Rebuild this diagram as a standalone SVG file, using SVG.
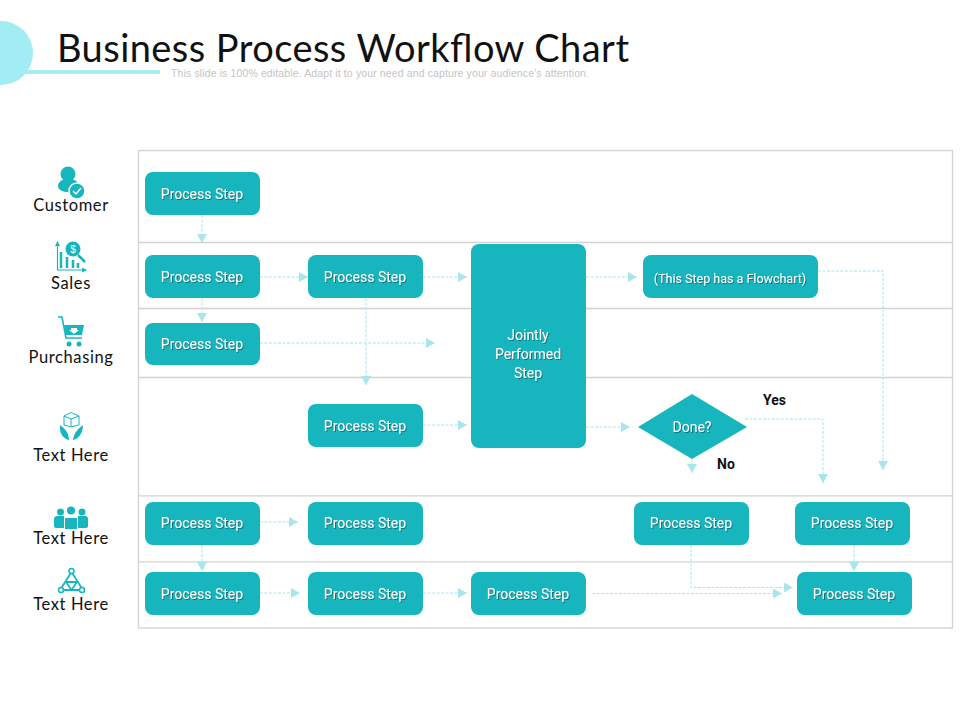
<svg xmlns="http://www.w3.org/2000/svg" width="960" height="720" viewBox="0 0 960 720">
<style>
.n{fill:#17b6bf}
.t{font-family:"Roboto","Liberation Sans",sans-serif;font-size:14px;fill:#fff;text-anchor:middle;filter:url(#ts)}
.l{font-family:"Lato","Liberation Sans",sans-serif;font-size:16.5px;fill:#111;text-anchor:middle;letter-spacing:.6px}
.b{font-family:"Roboto","Liberation Sans",sans-serif;font-size:14px;font-weight:700;fill:#111}
.g{stroke:#d2d2d2;stroke-width:1.3;fill:none}
.c{fill:none;stroke:#a9e6ec;stroke-width:1;stroke-dasharray:3 1.5;marker-end:url(#a)}
.i{fill:#17b6bf}
.s{fill:none;stroke:#17b6bf}
</style>
<defs>
<marker id="a" markerUnits="userSpaceOnUse" markerWidth="10" markerHeight="10" refX="9" refY="5" orient="auto"><path d="M0 0L9 5L0 10Z" fill="#a9e6ec"/></marker>
<filter id="ts" x="-10%" y="-30%" width="120%" height="170%"><feDropShadow dx="1" dy="1" stdDeviation=".4" flood-color="#0a5a60" flood-opacity=".7"/></filter>
</defs>
<g id="header">
<circle cx="1" cy="53" r="32" fill="#a2ecf3"/>
<rect x="25" y="70" width="135" height="4" fill="#a2ecf3"/>
<text x="57" y="62" font-family="Lato,'Liberation Sans',sans-serif" font-size="38" font-weight="400" fill="#111" textLength="572" lengthAdjust="spacing">Business Process Workflow Chart</text>
<text x="171" y="77" font-family="'Liberation Sans',sans-serif" font-size="10.5" fill="#c4c4c4" textLength="418">This slide is 100% editable. Adapt it to your need and capture your audience's attention.</text>
</g>
<g id="grid">
<rect class="g" x="138.500" y="150.500" width="814" height="477.500"/>
<path class="g" d="M138 242.500H953M138 308.500H953M138 377.500H953M138 495.800H953M138 561.800H953"/>
</g>
<g id="connectors">
<path class="c" d="M202 215V243"/>
<path class="c" d="M260 277H308"/>
<path class="c" d="M423 277H467"/>
<path class="c" d="M586 277H637"/>
<path class="c" d="M818 271H883V470"/>
<path class="c" d="M202 298V322"/>
<path class="c" d="M260 343H435"/>
<path class="c" d="M366 298V385"/>
<path class="c" d="M423 425H467"/>
<path class="c" d="M586 427H630"/>
<path class="c" d="M692 459V473"/>
<path class="c" d="M745 419H823V483"/>
<path class="c" d="M260 522H298"/>
<path class="c" d="M202 545V571"/>
<path class="c" d="M260 593H300"/>
<path class="c" d="M423 593H467"/>
<path class="c" d="M592 593.500H782"/>
<path class="c" d="M691 545V587.500H793"/>
<path class="c" d="M854 545V571"/>
</g>
<g id="n1"><rect class="n" x="145" y="172" width="115" height="43" rx="8"/><text class="t" x="202" y="199">Process Step</text></g>
<g id="n2"><rect class="n" x="145" y="255" width="115" height="43" rx="8"/><text class="t" x="202" y="282">Process Step</text></g>
<g id="n3"><rect class="n" x="308" y="255" width="115" height="43" rx="8"/><text class="t" x="365" y="282">Process Step</text></g>
<g id="n4"><rect class="n" x="471" y="244" width="115" height="204" rx="8"/><text class="t" x="528" y="340">Jointly</text><text class="t" x="528" y="359">Performed</text><text class="t" x="528" y="378">Step</text></g>
<g id="n5"><rect class="n" x="643" y="255" width="175" height="43" rx="8"/><text class="t" x="730" y="283" style="font-size:12.500px">(This Step has a Flowchart)</text></g>
<g id="n6"><rect class="n" x="145" y="323" width="115" height="42" rx="8"/><text class="t" x="202" y="349">Process Step</text></g>
<g id="n7"><rect class="n" x="308" y="404" width="115" height="43" rx="8"/><text class="t" x="365" y="431">Process Step</text></g>
<g id="n8"><path class="n" d="M638 427L692 394L747 427L692 459Z"/><text class="t" x="692" y="432">Done?</text></g>
<g id="n9"><rect class="n" x="145" y="502" width="115" height="43" rx="8"/><text class="t" x="202" y="528">Process Step</text></g>
<g id="n10"><rect class="n" x="308" y="502" width="115" height="43" rx="8"/><text class="t" x="365" y="528">Process Step</text></g>
<g id="n11"><rect class="n" x="634" y="502" width="115" height="43" rx="8"/><text class="t" x="691" y="528">Process Step</text></g>
<g id="n12"><rect class="n" x="795" y="502" width="115" height="43" rx="8"/><text class="t" x="852" y="528">Process Step</text></g>
<g id="n13"><rect class="n" x="145" y="572" width="115" height="43" rx="8"/><text class="t" x="202" y="599">Process Step</text></g>
<g id="n14"><rect class="n" x="308" y="572" width="115" height="43" rx="8"/><text class="t" x="365" y="599">Process Step</text></g>
<g id="n15"><rect class="n" x="471" y="572" width="115" height="43" rx="8"/><text class="t" x="528" y="599">Process Step</text></g>
<g id="n16"><rect class="n" x="797" y="572" width="115" height="43" rx="8"/><text class="t" x="854" y="599">Process Step</text></g>
<g id="labels">
<text class="b" x="763" y="405">Yes</text>
<text class="b" x="717" y="469">No</text>
</g>
<g id="lane-customer">
<circle class="i" cx="68" cy="174" r="7.500"/>
<path class="i" d="M58 186C58 182 62 179 68 179C74 179 78 181 79 185L72 192C64 193 58 190 58 186Z"/>
<circle cx="77" cy="191" r="8" class="i" stroke="#fff" stroke-width="1.500"/>
<path d="M73 191L76 194L81 188" fill="none" stroke="#fff" stroke-width="1.300"/>
<text class="l" x="71" y="211">Customer</text>
</g>
<g id="lane-sales">
<path class="s" d="M57.500 244V270H86" stroke-width="1.200"/>
<path class="i" d="M57.500 241L60 246H55ZM87 270L82 267.500V272.500Z"/>
<path class="s" stroke-width="2.500" d="M61 268V252M67 268V257M73 268V260M78 268V263"/>
<circle class="i" cx="73" cy="249" r="7.500"/>
<path class="s" stroke-width="2.500" d="M78 255L85 262"/>
<text x="73" y="253" font-family="'Liberation Sans',sans-serif" font-size="10" fill="#fff" text-anchor="middle">$</text>
<text class="l" x="71" y="289">Sales</text>
</g>
<g id="lane-purchasing">
<path class="s" stroke-width="1.600" d="M58 317H62L66 338H82M66 334H80"/>
<path class="i" d="M64 325H84L82 335H66Z"/>
<path fill="#fff" d="M71 328H77V330H79L74 334L69 330H71Z"/>
<circle class="i" cx="69" cy="344" r="2.500"/><circle class="i" cx="79" cy="344" r="2.500"/>
<text class="l" x="71" y="363">Purchasing</text>
</g>
<g id="lane-box">
<path class="s" stroke-width="1" d="M64 416L71 412.500L79 416V425L71 427L64 425ZM64 416L71 419L79 416M71 419V427"/>
<path class="i" d="M60 425C64 428 69 432 69 440C64 439 59 434 60 425ZM83 425C79 428 74 432 73 440C78 439 83 434 83 425Z"/>
<text class="l" x="71" y="461">Text Here</text>
</g>
<g id="lane-team">
<circle class="i" cx="60.500" cy="512" r="3.500"/><circle class="i" cx="71" cy="510.500" r="4"/><circle class="i" cx="82" cy="512" r="3.500"/>
<path class="i" d="M54 519Q54 516 58 516H64V528H57Q54 528 54 526ZM65 518H77V529H65ZM78 516H85Q88 516 88 519V526Q88 528 85 528H78Z"/>
<text class="l" x="71" y="544">Text Here</text>
</g>
<g id="lane-network">
<path class="s" stroke-width="1.800" d="M71.500 572L60 590H83ZM66 582H77L71.500 590Z"/>
<circle cx="71.500" cy="571" r="2.500" fill="#fff" stroke="#17b6bf" stroke-width="1.500"/>
<circle cx="61" cy="590" r="2.500" fill="#fff" stroke="#17b6bf" stroke-width="1.500"/>
<circle cx="82" cy="590" r="2.500" fill="#fff" stroke="#17b6bf" stroke-width="1.500"/>
<text class="l" x="71" y="610">Text Here</text>
</g>
</svg>
